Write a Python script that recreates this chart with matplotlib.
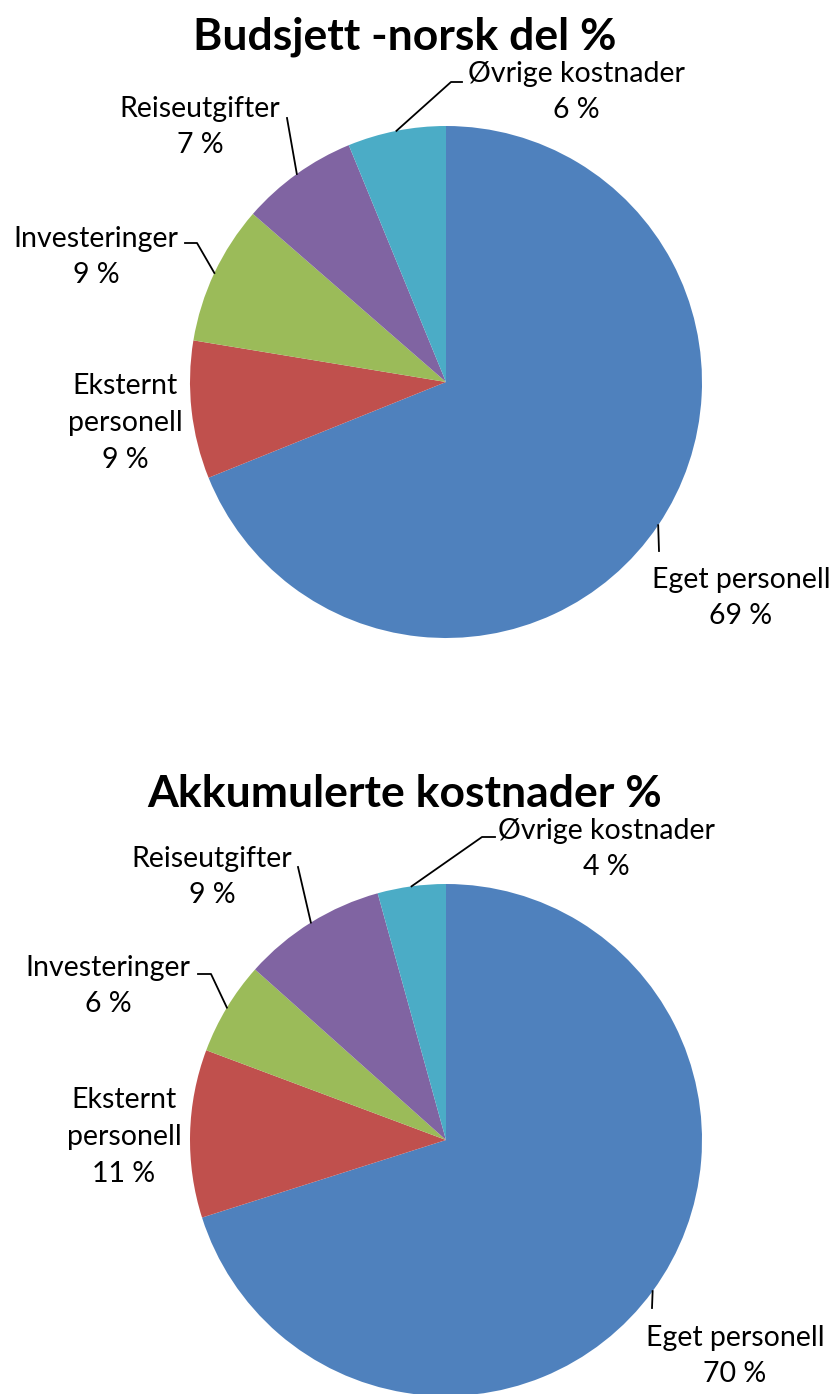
import numpy as np
import matplotlib.pyplot as plt

plt.rcParams["font.family"] = ["Lato", "DejaVu Sans"]

# data (percent)
categories = ["Eget personell", "Eksternt personell", "Investeringer", "Reiseutgifter", "Øvrige kostnader"]
budget_pct = [68.9, 8.7, 8.8, 7.4, 6.2]
spent_pct = [70.1, 10.6, 5.9, 9.1, 4.3]
titles = ["Budsjett -norsk del %", "Akkumulerte kostnader %"]
colors = ["#4F81BD", "#C0504D", "#9BBB59", "#8064A2", "#4BACC6"]
wrap = [False, True, False, False, False]

# layout in pixels, measured from top-left
W, H = 835, 1394
R = 256
layouts = [
    dict(center=(446, 382), title=(405, 37),
         labels=[(741, 598), (125, 423), (96, 257), (200, 127), (576, 92)],
         leaders=[[(659, 551)], None, [(197, 243), (185, 243)], [(287, 118)], [(451, 82), (462, 82)]]),
    dict(center=(446, 1140), title=(405, 794),
         labels=[(735, 1356), (124, 1137), (108, 986), (212, 877), (606, 849)],
         leaders=[[(652, 1308)], None, [(211, 974), (198, 974)], [(298, 867)], [(482, 837), (495, 837)]]),
]

fig = plt.figure(figsize=(W / 100, H / 100), dpi=100)
ax = fig.add_axes([0, 0, 1, 1])

for vals, title, lay in zip([budget_pct, spent_pct], titles, layouts):
    cx, cy = lay["center"]
    wedges, _ = ax.pie(vals, colors=colors, startangle=90, counterclock=False,
                       radius=R, center=(cx, H - cy), wedgeprops=dict(linewidth=0))
    tx, ty = lay["title"]
    ax.text(tx, H - ty, title, ha="center", va="center", fontsize=32, fontweight="bold")

    for w, name, v, wr, pos, path in zip(wedges, categories, vals, wrap, lay["labels"], lay["leaders"]):
        txt = name.replace(" ", "\n") if wr else name
        ax.text(pos[0], H - pos[1], f"{txt}\n{v:.0f} %", ha="center", va="center",
                fontsize=20.5, linespacing=1.5)
        if path is None:
            continue
        # leader starts on the rim at the middle of the slice
        ang = np.radians((w.theta1 + w.theta2) / 2)
        xs = [cx + R * np.cos(ang)] + [p[0] for p in path]
        ys = [H - cy + R * np.sin(ang)] + [H - p[1] for p in path]
        ax.plot(xs, ys, color="black", lw=1.3)

ax.set_xlim(0, W)
ax.set_ylim(0, H)
ax.axis("off")
fig.savefig("out.png", dpi=100, facecolor="white")
